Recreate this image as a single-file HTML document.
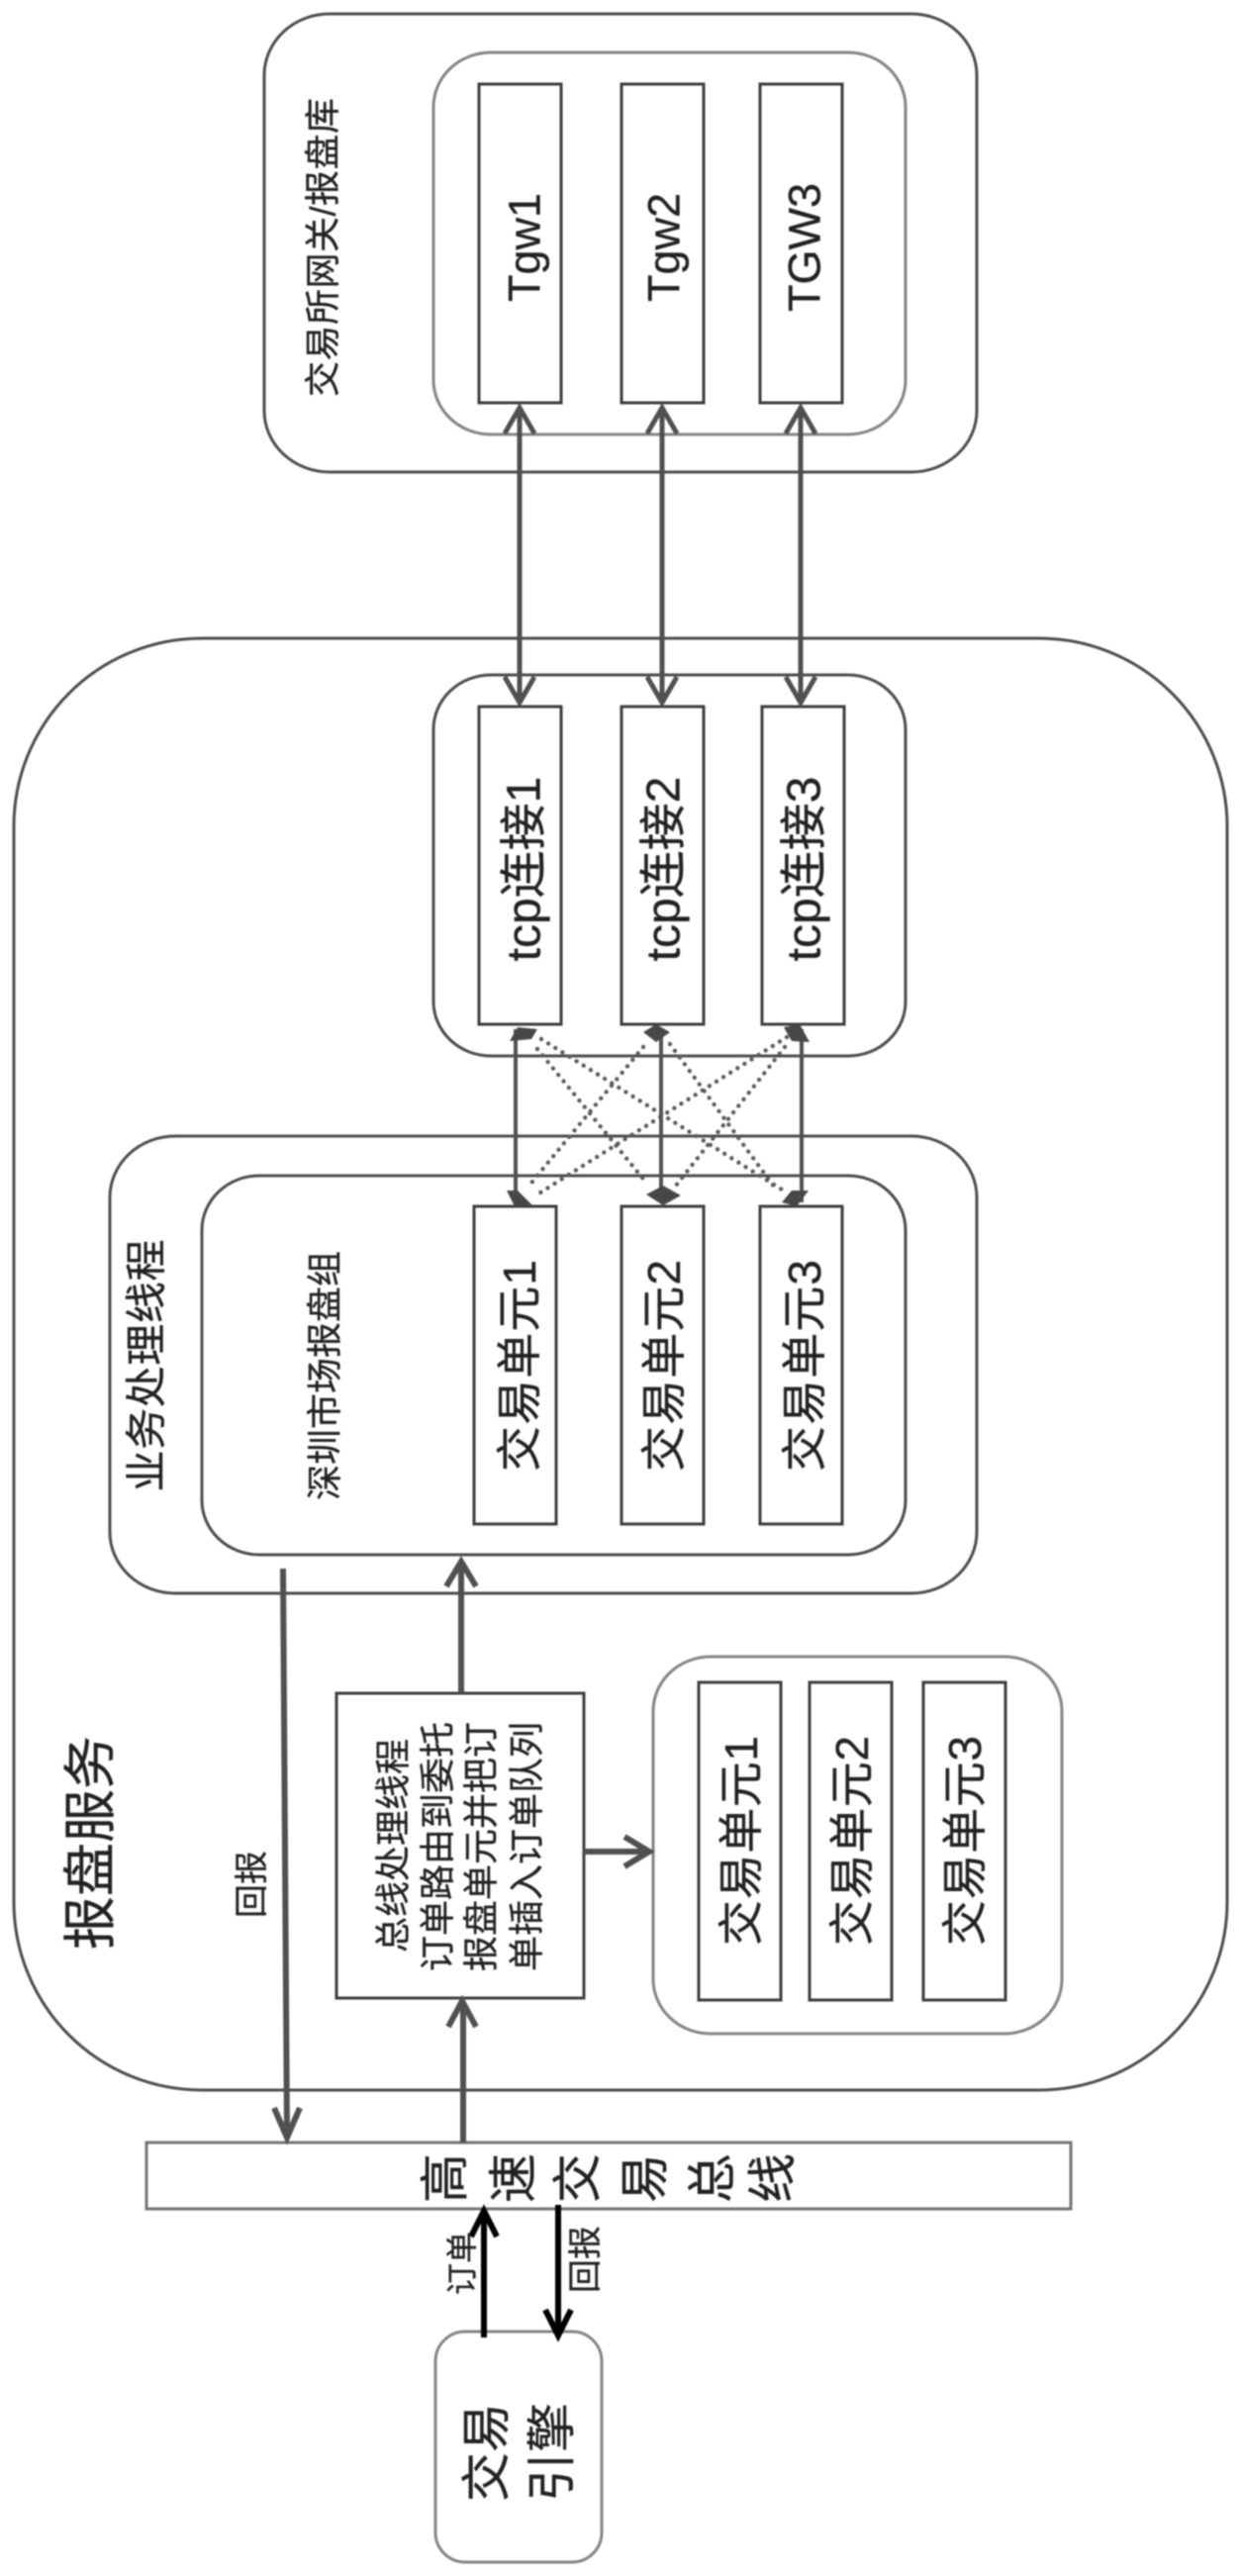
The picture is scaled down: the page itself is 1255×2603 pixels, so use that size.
<!DOCTYPE html>
<html lang="zh">
<head>
<meta charset="utf-8">
<title>报盘服务</title>
<style>
html,body{margin:0;padding:0;background:#fff;width:1255px;height:2603px;overflow:hidden}
svg{display:block;filter:blur(.7px)}
text{font-family:"Liberation Sans","Noto Sans CJK SC",sans-serif;fill:#222;stroke:#222;stroke-width:.35;text-anchor:middle;dominant-baseline:central}
.b{fill:none;stroke:#4d4d4d;stroke-width:3}
.g{fill:none;stroke:#858585;stroke-width:3}
.r{fill:#fff;stroke:#3d3d3d;stroke-width:3}
.a{fill:none;stroke:#505050;stroke-width:6}
.k{fill:none;stroke:#000;stroke-width:6}
.t{fill:none;stroke:#505050;stroke-width:5}
.d{fill:none;stroke:#5c5c5c;stroke-width:4.4;stroke-linecap:round;stroke-dasharray:0 8.4}
.h{fill:#474747;stroke:none}
</style>
</head>
<body>
<svg xmlns="http://www.w3.org/2000/svg" width="1255" height="2603" viewBox="0 0 1255 2603">
<rect width="1255" height="2603" fill="#fff" style="stroke:none"/>

<!-- containers -->
<rect class="b" x="267" y="14" width="720" height="463" rx="66" ry="62"/>
<rect class="g" x="438" y="53" width="477" height="386" rx="58" ry="55"/>
<rect class="b" x="14" y="645" width="1226" height="1467" rx="190" ry="190"/>
<rect class="b" x="438" y="682" width="477" height="385" rx="58" ry="55"/>
<rect class="b" x="111" y="1148" width="876" height="462" rx="66" ry="62"/>
<rect class="b" x="204" y="1188" width="711" height="383" rx="58" ry="55"/>
<rect class="g" x="660" y="1674" width="413" height="381" rx="58" ry="55"/>

<!-- gateway boxes -->
<rect class="r" x="484" y="85" width="83" height="322"/>
<rect class="r" x="628" y="85" width="83" height="322"/>
<rect class="r" x="768" y="85" width="83" height="322"/>
<!-- tcp boxes -->
<rect class="r" x="484" y="714" width="83" height="321"/>
<rect class="r" x="628" y="714" width="83" height="321"/>
<rect class="r" x="770" y="714" width="83" height="321"/>
<!-- unit boxes -->
<rect class="r" x="479" y="1219" width="83" height="321"/>
<rect class="r" x="628" y="1219" width="83" height="321"/>
<rect class="r" x="768" y="1219" width="83" height="321"/>
<!-- lower units -->
<rect class="r" x="706" y="1700" width="83" height="321"/>
<rect class="r" x="818" y="1700" width="83" height="321"/>
<rect class="r" x="933" y="1700" width="83" height="321"/>
<!-- bus thread -->
<rect class="r" x="340" y="1711" width="250" height="308"/>
<!-- bus -->
<rect x="148" y="2165" width="934" height="67" fill="#fff" stroke="#747474" stroke-width="3"/>
<!-- engine -->
<rect x="440" y="2356" width="168" height="233" rx="30" ry="30" fill="#fff" stroke="#858585" stroke-width="3"/>

<!-- double arrows gateway-tcp -->
<g class="t">
<path d="M525 414V709M510 438L525 412L540 438M510 684L525 710L540 684"/>
<path d="M669 414V709M654 438L669 412L684 438M654 684L669 710L684 684"/>
<path d="M809 414V709M794 438L809 412L824 438M794 684L809 710L824 684"/>
</g>

<!-- dotted crossings -->
<g class="d">
<path d="M547 1050L790 1202"/>
<path d="M543 1060L653 1195"/>
<path d="M650 1058L533 1200"/>
<path d="M677 1055L785 1203"/>
<path d="M795 1048L543 1207"/>
<path d="M793 1058L683 1198"/>
</g>
<!-- solid links -->
<g fill="none" stroke="#505050" stroke-width="4">
<path d="M521 1040V1215"/><path d="M668 1040V1215"/><path d="M810 1040V1215"/>
</g>
<g class="h">
<polygon points="515,1052 523,1038 543,1040 537,1050"/>
<polygon points="650,1043 663,1035 677,1043 663,1053"/>
<polygon points="792,1038 808,1035 818,1053 800,1052"/>
<polygon points="512,1203 523,1203 538,1218 520,1219"/>
<polygon points="653,1207 670,1198 688,1208 670,1218"/>
<polygon points="790,1215 800,1203 817,1203 805,1219"/>
</g>

<!-- 回报 down to bus -->
<path class="a" d="M286 1585L290 2158"/>
<path class="a" d="M277 2130L290 2160L303 2130" stroke-linejoin="miter"/>
<!-- up arrows -->
<path class="a" d="M466 1711V1580M451 1603L466 1578L481 1603"/>
<path class="a" d="M468 2165V2024M453 2048L467 2022L481 2048"/>
<!-- right arrow -->
<path class="a" d="M590 1871H654M631 1856L656 1871L631 1886"/>
<!-- black arrows -->
<path class="k" d="M489 2362V2238M476 2260L489 2234L502 2260"/>
<path class="k" d="M564 2228V2358M551 2334L564 2360L577 2334"/>

<!-- rotated texts -->
<text font-size="36" transform="translate(326 250) rotate(-90)" textLength="302">交易所网关/报盘库</text>
<text font-size="45" transform="translate(530 250) rotate(-90)">Tgw1</text>
<text font-size="45" transform="translate(671 250) rotate(-90)">Tgw2</text>
<text font-size="45" transform="translate(813 250) rotate(-90)">TGW3</text>

<text font-size="48" transform="translate(530 878) rotate(-90)">tcp连接1</text>
<text font-size="48" transform="translate(671 878) rotate(-90)">tcp连接2</text>
<text font-size="48" transform="translate(813 878) rotate(-90)">tcp连接3</text>

<text font-size="42" transform="translate(148 1380) rotate(-90)" textLength="255">业务处理线程</text>
<text font-size="36" transform="translate(328 1390) rotate(-90)" textLength="252">深圳市场报盘组</text>
<text font-size="46" transform="translate(525 1380) rotate(-90)" textLength="214">交易单元1</text>
<text font-size="46" transform="translate(671 1380) rotate(-90)" textLength="214">交易单元2</text>
<text font-size="46" transform="translate(813 1380) rotate(-90)" textLength="214">交易单元3</text>

<text font-size="46" transform="translate(749 1860) rotate(-90)" textLength="212">交易单元1</text>
<text font-size="46" transform="translate(861 1860) rotate(-90)" textLength="212">交易单元2</text>
<text font-size="46" transform="translate(975 1860) rotate(-90)" textLength="212">交易单元3</text>

<text font-size="54" transform="translate(92 1862) rotate(-90)">报盘服务</text>
<text font-size="34" transform="translate(255 1904) rotate(-90)">回报</text>

<text font-size="36" transform="translate(397 1865) rotate(-90)">总线处理线程</text>
<text font-size="36" transform="translate(442 1866) rotate(-90)">订单路由到委托</text>
<text font-size="36" transform="translate(486 1866) rotate(-90)">报盘单元并把订</text>
<text font-size="36" transform="translate(532 1866) rotate(-90)">单插入订单队列</text>

<!-- bus label: glyphs individually rotated -->
<text font-size="50" transform="translate(450 2201) rotate(-90)">高</text>
<text font-size="50" transform="translate(519 2201) rotate(-90)">速</text>
<text font-size="50" transform="translate(584 2201) rotate(-90)">交</text>
<text font-size="50" transform="translate(652 2201) rotate(-90)">易</text>
<text font-size="50" transform="translate(720 2201) rotate(-90)">总</text>
<text font-size="50" transform="translate(781 2201) rotate(-90)">线</text>

<text font-size="32" transform="translate(467 2287) rotate(-90)">订单</text>
<text font-size="34" transform="translate(592 2283) rotate(-90)">回报</text>

<text font-size="50" transform="translate(492 2478) rotate(-90)">交易</text>
<text font-size="50" transform="translate(558 2478) rotate(-90)">引擎</text>
</svg>
</body>
</html>
